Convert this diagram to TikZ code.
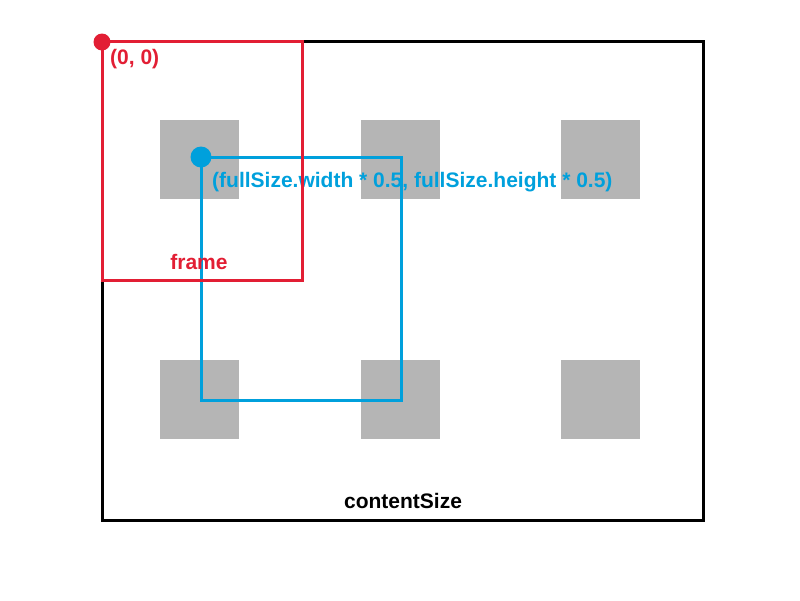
\documentclass[tikz,border=0pt]{standalone}
\usepackage{fontspec}
\setmainfont{Liberation Sans}
\definecolor{framered}{RGB}{226,30,52}
\definecolor{boundsblue}{RGB}{0,160,220}
\definecolor{tilegray}{RGB}{181,181,181}
\tikzset{
    tile/.style={fill=tilegray, draw=none},
    label text/.style={font=\fontsize{21}{23}\selectfont\bfseries, inner sep=0pt},
    origin dot/.style={circle, inner sep=0pt, minimum size=#1},
}
\begin{document}
\begin{tikzpicture}[x=1pt, y=-1pt]
    \useasboundingbox (0,0) rectangle (800,600);

    % content area
    \draw[line width=3pt] (102,41) rectangle (703,520);
    \node[label text] (content) at (403,501) {contentSize};

    % tiles, two rows of three
    \foreach \col in {0,1,2} {
        \foreach \row in {0,1} {
            \fill[tile] (160+200.5*\col,120+240*\row) rectangle ++(79,79);
        }
    }

    % blue box (bounds, offset by half size)
    \draw[boundsblue, line width=3pt] (201,157) rectangle (401,400);
    \node[origin dot=21pt, fill=boundsblue] (center) at (201,157) {};
    \node[label text, text=boundsblue, anchor=west] (centerlabel) at (212,182)
        {(fullSize.width * 0.5, fullSize.height * 0.5)};

    % red box (frame at origin)
    \draw[framered, line width=3pt] (102,41) rectangle (302,280);
    \node[origin dot=17pt, fill=framered] (origin) at (102,42) {};
    \node[label text, text=framered, anchor=west] (originlabel) at (110,59) {(0, 0)};
    \node[label text, text=framered] (framelabel) at (199,262) {frame};
\end{tikzpicture}
\end{document}
